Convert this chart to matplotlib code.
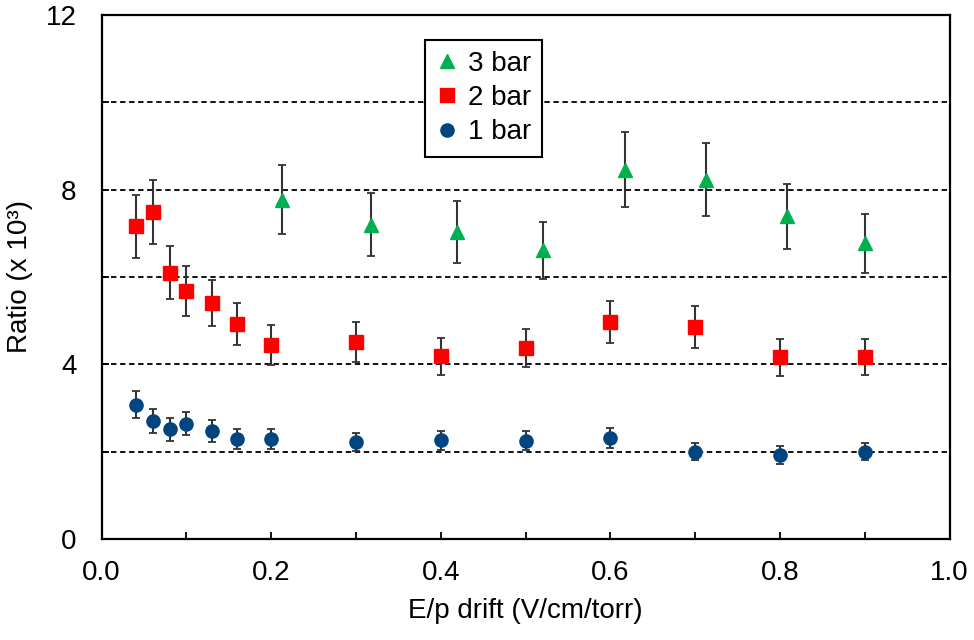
import numpy as np
import matplotlib.pyplot as plt

plt.rcParams['font.family'] = ['Liberation Sans', 'DejaVu Sans']

# 3 bar
x3 = [0.213, 0.318, 0.419, 0.52, 0.617, 0.713, 0.808, 0.90]
y3 = [7.77, 7.20, 7.03, 6.61, 8.46, 8.23, 7.39, 6.77]
e3 = [0.79, 0.73, 0.71, 0.66, 0.85, 0.83, 0.75, 0.68]

# 2 bar
x2 = [0.04, 0.06, 0.08, 0.10, 0.13, 0.16, 0.2, 0.3, 0.4, 0.5, 0.6, 0.7, 0.8, 0.9]
y2 = [7.16, 7.48, 6.10, 5.68, 5.40, 4.92, 4.44, 4.51, 4.18, 4.37, 4.97, 4.85, 4.16, 4.17]
e2 = [0.72, 0.73, 0.60, 0.58, 0.53, 0.49, 0.45, 0.45, 0.42, 0.44, 0.49, 0.48, 0.42, 0.42]

# 1 bar
x1 = [0.04, 0.06, 0.08, 0.10, 0.13, 0.16, 0.2, 0.3, 0.4, 0.5, 0.6, 0.7, 0.8, 0.9]
y1 = [3.07, 2.70, 2.51, 2.64, 2.48, 2.29, 2.29, 2.22, 2.26, 2.25, 2.32, 2.00, 1.92, 2.00]
e1 = [0.31, 0.28, 0.26, 0.27, 0.25, 0.23, 0.23, 0.21, 0.22, 0.22, 0.23, 0.20, 0.20, 0.20]

series = [
    ('3 bar', x3, y3, e3, '^', '#00B050'),
    ('2 bar', x2, y2, e2, 's', '#FF0000'),
    ('1 bar', x1, y1, e1, 'o', '#00457F'),
]

fig = plt.figure(figsize=(9.74, 6.40), dpi=100)
ax = fig.add_axes([0.1044, 0.158, 0.8706, 0.8185])

# dashed horizontal guides
for yv in [2, 4, 6, 8, 10]:
    ax.axhline(yv, color='black', lw=1.3, ls=(0, (3, 2)), zorder=1)

for label, x, y, e, m, c in series:
    ax.errorbar(x, y, yerr=e, fmt='none', ecolor='#333333', elinewidth=1.5,
                capsize=3, capthick=1.3, zorder=2)
    ax.plot(x, y, ls='none', marker=m, ms=9.5, color=c, mec=c, label=label, zorder=3)

ax.set_xlim(0, 1.0)
ax.set_ylim(0, 12)
ax.set_xticks(np.arange(0, 1.01, 0.2))
ax.set_xticks(np.arange(0, 1.01, 0.1), minor=True)
ax.set_yticks([0, 4, 8, 12])
ax.set_yticks([2, 6, 10], minor=True)
ax.set_xticklabels(['0.0', '0.2', '0.4', '0.6', '0.8', '1.0'])
ax.tick_params(which='both', direction='in', length=5, width=1.3, labelsize=20,
               colors='black')
ax.tick_params(axis='x', pad=15)
ax.tick_params(axis='y', pad=18)
for sp in ax.spines.values():
    sp.set_linewidth(1.6)

ax.set_xlabel('E/p drift (V/cm/torr)', fontsize=20, labelpad=9)
ax.set_ylabel('Ratio (x 10³)', fontsize=20, labelpad=9)

leg = ax.legend(loc='upper left', bbox_to_anchor=(0.381, 0.953), fontsize=20,
                frameon=True, fancybox=False, handlelength=0.8, handletextpad=0.35,
                borderpad=0.4, labelspacing=0.3, borderaxespad=0)
leg.get_frame().set_edgecolor('black')
leg.get_frame().set_linewidth(1.5)
leg.get_frame().set_alpha(1)

fig.savefig('out.png', dpi=100)
